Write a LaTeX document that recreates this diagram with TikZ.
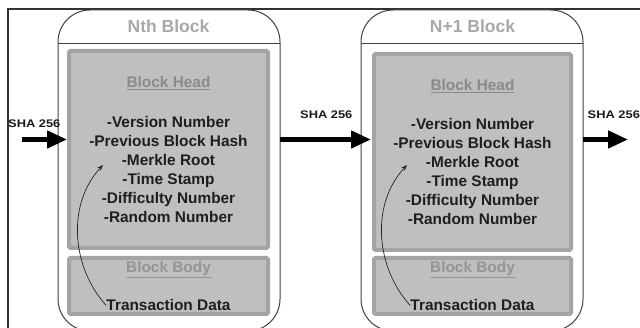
\documentclass[tikz,border=0pt]{standalone}
\usepackage{fontspec}
\setmainfont{Liberation Sans}
\usetikzlibrary{arrows.meta}
\definecolor{boxfill}{HTML}{BFBFBF}
\definecolor{boxedge}{HTML}{A4A4A4}
\definecolor{titlegray}{HTML}{A8A8A8}
\definecolor{headgray}{HTML}{8A8A8A}
\definecolor{bodygray}{HTML}{959595}
\definecolor{txt}{HTML}{1E1E1E}
\newcommand{\shatext}{\scalebox{1.17}[1]{SHA 256}}
\begin{document}
\begin{tikzpicture}[x=1pt,y=-1pt,
  frameline/.style={draw=black!80, line width=1.2pt},
  blockline/.style={draw=black!75, line width=1pt},
  partbox/.style={draw=boxedge, fill=boxfill, line width=4pt, inner sep=0pt, rounded corners=1.5pt},
  blocktitle/.style={anchor=base, text=titlegray, font=\bfseries\fontsize{17.5}{20}\selectfont, inner sep=0pt},
  parttitle/.style={anchor=base, text=headgray, font=\bfseries\fontsize{15.4}{19}\selectfont, inner sep=0pt},
  field/.style={anchor=base, text=txt, font=\bfseries\fontsize{15.4}{19}\selectfont, inner sep=0pt},
  shalabel/.style={anchor=base west, text=black!90, font=\bfseries\fontsize{11}{13}\selectfont, inner sep=0pt},
  hasharrow/.style={draw=black, line width=4.5pt, -{Triangle[length=20pt,width=17pt]}},
  linkarrow/.style={draw=black!85, line width=0.7pt, -{Stealth[length=6pt,width=4.5pt]}}
]
\useasboundingbox (0,0) rectangle (640,328);
% frame
\draw[frameline] (8,328) -- (8,9) -- (640,9);

% ---------- Block N ----------
\draw[blockline, rounded corners=32pt] (58,331) rectangle (280,10);
\draw[blockline] (58,44) -- (280,44);
\node[blocktitle] (t1) at (168.5,33) {Nth Block};
\node[partbox, minimum width=199pt, minimum height=197pt] (h1) at (168.5,149.5) {};
\node[partbox, minimum width=199pt, minimum height=56pt] (b1) at (168.5,286) {};
\node[parttitle] (ht1) at (168.5,88) {\underline{Block Head}};
\node[field] (v1) at (168.5,128) {-Version Number};
\node[field] (p1) at (168.5,147) {-Previous Block Hash};
\node[field] (m1) at (168.5,166) {-Merkle Root};
\node[field] (s1) at (168.5,185) {-Time Stamp};
\node[field] (d1) at (168.5,204) {-Difficulty Number};
\node[field] (r1) at (168.5,223) {-Random Number};
\node[parttitle, text=bodygray] (bt1) at (168.5,273) {\underline{Block Body}};
\node[field] (x1) at (168.5,311) {Transaction Data};
\coordinate (tip1) at (103,165);
\draw[linkarrow] (x1.west) .. controls (72,268) and (66,205) .. (tip1);

% ---------- Block N+1 ----------
\draw[blockline, rounded corners=32pt] (361,331) rectangle (583,10);
\draw[blockline] (361,44) -- (583,44);
\node[blocktitle] (t2) at (472.5,33) {N+1 Block};
\node[partbox, minimum width=197pt, minimum height=196pt] (h2) at (472.5,152) {};
\node[partbox, minimum width=197pt, minimum height=56pt] (b2) at (472.5,286) {};
\node[parttitle] (ht2) at (472.5,91) {\underline{Block Head}};
\node[field] (v2) at (472.5,130) {-Version Number};
\node[field] (p2) at (472.5,149) {-Previous Block Hash};
\node[field] (m2) at (472.5,168) {-Merkle Root};
\node[field] (s2) at (472.5,187) {-Time Stamp};
\node[field] (d2) at (472.5,206) {-Difficulty Number};
\node[field] (r2) at (472.5,225) {-Random Number};
\node[parttitle, text=bodygray] (bt2) at (472.5,273) {\underline{Block Body}};
\node[field] (x2) at (472.5,311) {Transaction Data};
\coordinate (tip2) at (407,165);
\draw[linkarrow] (x2.west) .. controls (376,268) and (370,205) .. (tip2);

% ---------- SHA 256 arrows ----------
\coordinate (in0) at (22,139.5);
\coordinate (mid0) at (280,139.5);
\coordinate (out1) at (583,139.5);
\coordinate (out2) at (628,139.5);
\draw[hasharrow] (in0) -- (h1.west |- in0);
\draw[hasharrow] (mid0) -- ([xshift=-1pt]h2.west |- in0);
\draw[hasharrow] (out1) -- (out2);
\node[shalabel] (l0) at (8,128) {\shatext};
\node[shalabel] (l1) at (300,119) {\shatext};
\node[shalabel] (l2) at (587.5,119) {\shatext};
\end{tikzpicture}
\end{document}
